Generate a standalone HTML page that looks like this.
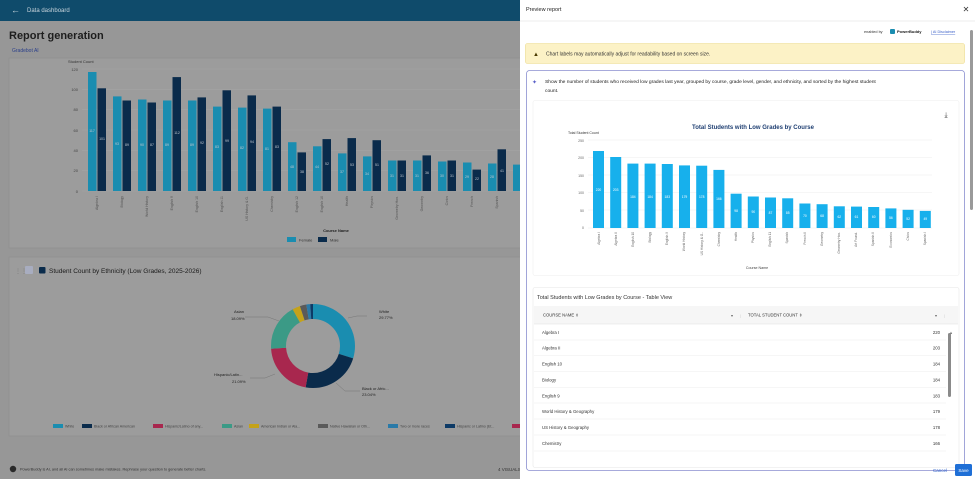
<!DOCTYPE html>
<html><head><meta charset="utf-8"><style>
html,body{margin:0;padding:0;width:975px;height:479px;overflow:hidden;background:#979797;font-family:"Liberation Sans",sans-serif}
svg{display:block}
</style></head><body>
<svg width="975" height="479" viewBox="0 0 975 479" font-family="Liberation Sans, sans-serif">
<!-- LEFT (dimmed) -->
<rect x="0" y="0" width="520" height="479" fill="#979797"/>
<rect x="0" y="0" width="520" height="21" fill="#0f4b6b"/>
<text x="11" y="13" font-size="9" fill="#c8d4dc">←</text>
<text x="27" y="12" font-size="6" fill="#c8d4dc">Data dashboard</text>
<text x="9" y="39" font-size="11" font-weight="bold" fill="#1e1e1e">Report generation</text>
<text x="12" y="52" font-size="5" fill="#2a3f8a">Gradebot AI</text>
<rect x="9" y="58" width="515" height="190" fill="#9c9c9c" stroke="#8c8c8c" stroke-width="0.6"/>
<text x="68" y="63" font-size="4" fill="#333">Student Count</text>
<g stroke="#a6a6a6" stroke-width="0.5">
<line x1="82" y1="69" x2="520" y2="69"/><line x1="82" y1="89.3" x2="520" y2="89.3"/><line x1="82" y1="109.7" x2="520" y2="109.7"/><line x1="82" y1="130" x2="520" y2="130"/><line x1="82" y1="150.3" x2="520" y2="150.3"/><line x1="82" y1="170.7" x2="520" y2="170.7"/><line x1="82" y1="191" x2="520" y2="191"/>
</g>
<g font-size="4" fill="#444" text-anchor="end">
<text x="78" y="71">120</text><text x="78" y="91">100</text><text x="78" y="111">80</text><text x="78" y="132">60</text><text x="78" y="152">40</text><text x="78" y="172">20</text><text x="78" y="193">0</text>
</g>
<g fill="#1a8db0">
<rect x="88" y="72" width="8.5" height="119"/><rect x="113" y="96.4" width="8.5" height="94.6"/><rect x="138" y="99.5" width="8.5" height="91.5"/><rect x="163" y="100.5" width="8.5" height="90.5"/><rect x="188" y="100.5" width="8.5" height="90.5"/><rect x="213" y="106.6" width="8.5" height="84.4"/><rect x="238" y="107.6" width="8.5" height="83.4"/><rect x="263" y="108.6" width="8.5" height="82.4"/><rect x="288" y="142.2" width="8.5" height="48.8"/><rect x="313" y="146.3" width="8.5" height="44.7"/><rect x="338" y="153.4" width="8.5" height="37.6"/><rect x="363" y="156.4" width="8.5" height="34.6"/><rect x="388" y="160.5" width="8.5" height="30.5"/><rect x="413" y="160.5" width="8.5" height="30.5"/><rect x="438" y="161.5" width="8.5" height="29.5"/><rect x="463" y="162.5" width="8.5" height="28.5"/><rect x="488" y="163.5" width="8.5" height="27.5"/><rect x="513" y="164.6" width="7" height="26.4"/>
</g>
<g fill="#0a2b4b">
<rect x="97.5" y="88.3" width="8.5" height="102.7"/><rect x="122.5" y="100.5" width="8.5" height="90.5"/><rect x="147.5" y="102.5" width="8.5" height="88.5"/><rect x="172.5" y="77.1" width="8.5" height="113.9"/><rect x="197.5" y="97.4" width="8.5" height="93.6"/><rect x="222.5" y="90.3" width="8.5" height="100.7"/><rect x="247.5" y="95.4" width="8.5" height="95.6"/><rect x="272.5" y="106.6" width="8.5" height="84.4"/><rect x="297.5" y="152.4" width="8.5" height="38.6"/><rect x="322.5" y="139.1" width="8.5" height="51.9"/><rect x="347.5" y="138.1" width="8.5" height="52.9"/><rect x="372.5" y="140.2" width="8.5" height="50.8"/><rect x="397.5" y="160.5" width="8.5" height="30.5"/><rect x="422.5" y="155.4" width="8.5" height="35.6"/><rect x="447.5" y="160.5" width="8.5" height="30.5"/><rect x="472.5" y="169.6" width="8.5" height="21.4"/><rect x="497.5" y="149.3" width="8.5" height="41.7"/>
</g>
<g font-size="3.5" fill="#c0c8d0" text-anchor="middle">
<text x="92" y="132">117</text><text x="102" y="140">101</text><text x="117" y="145">93</text><text x="127" y="146">89</text><text x="142" y="146">90</text><text x="152" y="146">87</text><text x="167" y="146">89</text><text x="177" y="134">112</text><text x="192" y="146">89</text><text x="202" y="144">92</text><text x="217" y="148">83</text><text x="227" y="142">99</text><text x="242" y="149">82</text><text x="252" y="143">94</text><text x="267" y="150">81</text><text x="277" y="148">83</text><text x="292" y="168">48</text><text x="302" y="173">38</text><text x="317" y="168">44</text><text x="327" y="165">52</text><text x="342" y="173">37</text><text x="352" y="166">53</text><text x="367" y="175">34</text><text x="377" y="166">51</text><text x="392" y="177">31</text><text x="402" y="177">31</text><text x="417" y="177">31</text><text x="427" y="174">36</text><text x="442" y="177">30</text><text x="452" y="177">31</text><text x="467" y="178">29</text><text x="477" y="180">22</text><text x="492" y="178">28</text><text x="502" y="172">41</text>
</g>
<g font-size="3.5" fill="#555">
<text transform="translate(98,196) rotate(-90)" text-anchor="end">Algebra I</text><text transform="translate(123,196) rotate(-90)" text-anchor="end">Biology</text><text transform="translate(148,196) rotate(-90)" text-anchor="end">World History</text><text transform="translate(173,196) rotate(-90)" text-anchor="end">English 9</text><text transform="translate(198,196) rotate(-90)" text-anchor="end">English 10</text><text transform="translate(223,196) rotate(-90)" text-anchor="end">English 11</text><text transform="translate(248,196) rotate(-90)" text-anchor="end">US History &amp; G.</text><text transform="translate(273,196) rotate(-90)" text-anchor="end">Chemistry</text><text transform="translate(298,196) rotate(-90)" text-anchor="end">English 12</text><text transform="translate(323,196) rotate(-90)" text-anchor="end">English 10</text><text transform="translate(348,196) rotate(-90)" text-anchor="end">Health</text><text transform="translate(373,196) rotate(-90)" text-anchor="end">Physics</text><text transform="translate(398,196) rotate(-90)" text-anchor="end">Geometry Hon.</text><text transform="translate(423,196) rotate(-90)" text-anchor="end">Geometry</text><text transform="translate(448,196) rotate(-90)" text-anchor="end">Civics</text><text transform="translate(473,196) rotate(-90)" text-anchor="end">French</text><text transform="translate(498,196) rotate(-90)" text-anchor="end">Spanish</text>
</g>
<text x="336" y="232" font-size="4" font-weight="bold" fill="#222" text-anchor="middle">Course Name</text>
<rect x="287" y="237" width="9" height="5" fill="#1a8db0"/><text x="299" y="241.5" font-size="4" fill="#333">Female</text>
<rect x="318" y="237" width="9" height="5" fill="#0a2b4b"/><text x="330" y="241.5" font-size="4" fill="#333">Male</text>
<!-- second card -->
<rect x="9" y="257" width="515" height="179" fill="#9c9c9c" stroke="#8c8c8c" stroke-width="0.6"/>
<text x="15" y="273" font-size="6" fill="#7a7a7a">⋮⋮</text>
<rect x="25" y="266" width="8" height="8" fill="#a8adc0" rx="1"/>
<rect x="39" y="267" width="6.5" height="6.5" fill="#0a2b4b" rx="1"/>
<text x="49" y="273" font-size="6.5" fill="#1a1a1a">Student Count by Ethnicity (Low Grades, 2025-2026)</text>
<g transform="translate(313,346) rotate(-90)" fill="none" stroke-width="15">
<circle r="34.5" stroke="#1a8db0" stroke-dasharray="64.4 216.8" stroke-dashoffset="0"/>
<circle r="34.5" stroke="#0a2b4b" stroke-dasharray="49.9 216.8" stroke-dashoffset="-64.4"/>
<circle r="34.5" stroke="#a8274e" stroke-dasharray="45.7 216.8" stroke-dashoffset="-114.3"/>
<circle r="34.5" stroke="#3b9a86" stroke-dasharray="39 216.8" stroke-dashoffset="-160"/>
<circle r="34.5" stroke="#c4a21a" stroke-dasharray="6.5 216.8" stroke-dashoffset="-199"/>
<circle r="34.5" stroke="#5a5a5a" stroke-dasharray="5.4 216.8" stroke-dashoffset="-205.5"/>
<circle r="34.5" stroke="#2a7aa8" stroke-dasharray="3.2 216.8" stroke-dashoffset="-210.9"/>
<circle r="34.5" stroke="#0d3a66" stroke-dasharray="2.7 216.8" stroke-dashoffset="-214.1"/>
</g>
<g stroke="#777" stroke-width="0.5" fill="none">
<polyline points="348,318 357,316 367,316"/><polyline points="279,321 268,317 245,317"/><polyline points="275,374 265,378 250,378"/><polyline points="336,383 345,391 360,391"/>
</g>
<g font-size="4" fill="#222">
<text x="379" y="313">White</text><text x="379" y="319">29.77%</text>
<text x="234" y="313">Asian</text><text x="231" y="320">18.09%</text>
<text x="214" y="376">Hispanic/Latin...</text><text x="232" y="383">21.09%</text>
<text x="362" y="390">Black or Afric...</text><text x="362" y="396">23.04%</text>
</g>
<g font-size="3.6" fill="#444">
<rect x="53" y="424" width="10" height="4" fill="#1a8db0"/><text x="65" y="427.5">White</text>
<rect x="82" y="424" width="10" height="4" fill="#0a2b4b"/><text x="94" y="427.5">Black or African American</text>
<rect x="153" y="424" width="10" height="4" fill="#a8274e"/><text x="165" y="427.5">Hispanic/Latino of any...</text>
<rect x="222" y="424" width="10" height="4" fill="#3b9a86"/><text x="234" y="427.5">Asian</text>
<rect x="249" y="424" width="10" height="4" fill="#c4a21a"/><text x="261" y="427.5">American Indian or Ala...</text>
<rect x="318" y="424" width="10" height="4" fill="#5a5a5a"/><text x="330" y="427.5">Native Hawaiian or Oth...</text>
<rect x="388" y="424" width="10" height="4" fill="#2a7aa8"/><text x="400" y="427.5">Two or more races</text>
<rect x="445" y="424" width="10" height="4" fill="#0d3a66"/><text x="457" y="427.5">Hispanic or Latino (Et...</text>
<rect x="512" y="424" width="8" height="4" fill="#a8274e"/>
</g>
<circle cx="13" cy="469" r="3.2" fill="#2a2a2a"/>
<text x="20" y="470.5" font-size="3.8" fill="#333">PowerBuddy is AI, and all AI can sometimes make mistakes. Rephrase your question to generate better charts.</text>
<text x="498" y="471" font-size="4.5" fill="#333">4 VISUALS</text>

<!-- RIGHT modal -->
<rect x="520" y="0" width="455" height="479" fill="#ffffff"/>
<text x="526" y="11" font-size="5.5" fill="#222">Preview report</text>
<text x="966" y="12" font-size="8" fill="#333" text-anchor="middle">✕</text>
<line x1="520" y1="21" x2="975" y2="21" stroke="#e6e6e6" stroke-width="0.8"/>
<text x="864" y="33" font-size="3.8" fill="#333">enabled by</text>
<rect x="890" y="29" width="5" height="5" fill="#1a8db0" rx="1"/>
<text x="897" y="33" font-size="4" font-weight="bold" fill="#1a1a1a">PowerBuddy</text>
<text x="931" y="33" font-size="3.8" fill="#3a5fc8" text-decoration="underline">| AI Disclaimer</text>
<rect x="970" y="30" width="3" height="180" fill="#9a9a9a" rx="1.5"/>
<rect x="525.5" y="43.5" width="439" height="20" fill="#fcf2c6" stroke="#ecd98a" stroke-width="0.6" rx="2"/>
<text x="533" y="56" font-size="6" fill="#4a3a00">▲</text>
<text x="546" y="55.5" font-size="5" fill="#333">Chart labels may automatically adjust for readability based on screen size.</text>
<rect x="526.5" y="70.5" width="438" height="400" fill="#fff" stroke="#8a8fd0" stroke-width="0.8" rx="3"/>
<text x="532" y="84" font-size="6" fill="#5a60c8">✦</text>
<text x="545" y="83" font-size="4.9" fill="#222">Show the number of students who received low grades last year, grouped by course, grade level, gender, and ethnicity, and sorted by the highest student</text>
<text x="545" y="92" font-size="4.9" fill="#222">count.</text>
<rect x="533" y="100.5" width="426" height="175" fill="#fff" stroke="#eeeeee" stroke-width="0.6" rx="2"/>
<text x="946" y="117" font-size="7" fill="#333" text-anchor="middle">⤓</text>
<text x="753" y="129" font-size="6" font-weight="bold" fill="#1f3f72" text-anchor="middle">Total Students with Low Grades by Course</text>
<text x="568" y="134" font-size="3.5" fill="#333">Total Student Count</text>
<g stroke="#ececec" stroke-width="0.5">
<line x1="588" y1="140" x2="932" y2="140"/><line x1="588" y1="157.5" x2="932" y2="157.5"/><line x1="588" y1="175" x2="932" y2="175"/><line x1="588" y1="192.5" x2="932" y2="192.5"/><line x1="588" y1="210" x2="932" y2="210"/><line x1="588" y1="228" x2="932" y2="228"/>
</g>
<g font-size="3.5" fill="#666" text-anchor="end">
<text x="584" y="142">250</text><text x="584" y="159">200</text><text x="584" y="177">150</text><text x="584" y="194">100</text><text x="584" y="212">50</text><text x="584" y="229">0</text>
</g>
<g fill="#17b0ec">
<rect x="593" y="151" width="11" height="77"/><rect x="610.2" y="157" width="11" height="71"/><rect x="627.4" y="163.6" width="11" height="64.4"/><rect x="644.6" y="163.6" width="11" height="64.4"/><rect x="661.8" y="164" width="11" height="64"/><rect x="679" y="165.4" width="11" height="62.6"/><rect x="696.2" y="165.7" width="11" height="62.3"/><rect x="713.4" y="169.9" width="11" height="58.1"/><rect x="730.6" y="193.7" width="11" height="34.3"/><rect x="747.8" y="196.5" width="11" height="31.5"/><rect x="765" y="197.5" width="11" height="30.5"/><rect x="782.2" y="198.3" width="11" height="29.7"/><rect x="799.4" y="203.5" width="11" height="24.5"/><rect x="816.6" y="204.2" width="11" height="23.8"/><rect x="833.8" y="206.3" width="11" height="21.7"/><rect x="851" y="206.6" width="11" height="21.4"/><rect x="868.2" y="207" width="11" height="21"/><rect x="885.4" y="208.4" width="11" height="19.6"/><rect x="902.6" y="209.8" width="11" height="18.2"/><rect x="919.8" y="210.9" width="11" height="17.1"/>
</g>
<g font-size="3.3" fill="#fff" text-anchor="middle">
<text x="598.5" y="191">220</text><text x="615.7" y="191">203</text><text x="632.9" y="198">184</text><text x="650.1" y="198">184</text><text x="667.3" y="198">183</text><text x="684.5" y="198">179</text><text x="701.7" y="198">178</text><text x="718.9" y="200">166</text><text x="736.1" y="212">98</text><text x="753.3" y="213">90</text><text x="770.5" y="214">87</text><text x="787.7" y="214">85</text><text x="804.9" y="217">70</text><text x="822.1" y="217">68</text><text x="839.3" y="218">62</text><text x="856.5" y="218">61</text><text x="873.7" y="218">60</text><text x="890.9" y="219">56</text><text x="908.1" y="220">52</text><text x="925.3" y="220">49</text>
</g>
<g font-size="3.2" fill="#666" text-anchor="end">
<text transform="translate(600,232) rotate(-90)">Algebra I</text><text transform="translate(617,232) rotate(-90)">Algebra II</text><text transform="translate(634,232) rotate(-90)">English 10</text><text transform="translate(651,232) rotate(-90)">Biology</text><text transform="translate(668,232) rotate(-90)">English 9</text><text transform="translate(685,232) rotate(-90)">World History</text><text transform="translate(703,232) rotate(-90)">US History &amp; G..</text><text transform="translate(720,232) rotate(-90)">Chemistry</text><text transform="translate(737,232) rotate(-90)">Health</text><text transform="translate(754,232) rotate(-90)">Physics</text><text transform="translate(771,232) rotate(-90)">English 11</text><text transform="translate(788,232) rotate(-90)">Spanish</text><text transform="translate(806,232) rotate(-90)">French II</text><text transform="translate(823,232) rotate(-90)">Geometry</text><text transform="translate(840,232) rotate(-90)">Geometry Hon.</text><text transform="translate(857,232) rotate(-90)">Art Found.</text><text transform="translate(874,232) rotate(-90)">Spanish II</text><text transform="translate(892,232) rotate(-90)">Economics</text><text transform="translate(909,232) rotate(-90)">Civics</text><text transform="translate(926,232) rotate(-90)">Spanish I</text>
</g>
<text x="757" y="269" font-size="3.6" fill="#444" text-anchor="middle">Course Name</text>
<rect x="533" y="287.5" width="426" height="180" fill="#fff" stroke="#e6e6e6" stroke-width="0.6" rx="2"/>
<text x="537" y="299" font-size="5.5" fill="#333">Total Students with Low Grades by Course - Table View</text>
<rect x="534" y="306" width="424" height="18" fill="#f6f6f6"/>
<line x1="534" y1="324" x2="958" y2="324" stroke="#e0e0e0" stroke-width="0.6"/>
<text x="543" y="316.5" font-size="4.2" fill="#333">COURSE NAME  ⇕</text>
<text x="731" y="317" font-size="4" fill="#666">▾</text><text x="740" y="317" font-size="4" fill="#ccc">|</text>
<text x="748" y="316.5" font-size="4.2" fill="#333">TOTAL STUDENT COUNT  ⇕</text>
<text x="935" y="317" font-size="4" fill="#666">▾</text><text x="944" y="317" font-size="4" fill="#ccc">|</text>
<g font-size="4.3" fill="#333">
<text x="542" y="334">Algebra I</text><text x="940" y="334" text-anchor="end">220</text>
<text x="542" y="349.5">Algebra II</text><text x="940" y="349.5" text-anchor="end">203</text>
<text x="542" y="365.5">English 10</text><text x="940" y="365.5" text-anchor="end">184</text>
<text x="542" y="381.5">Biology</text><text x="940" y="381.5" text-anchor="end">184</text>
<text x="542" y="397.5">English 9</text><text x="940" y="397.5" text-anchor="end">183</text>
<text x="542" y="413">World History &amp; Geography</text><text x="940" y="413" text-anchor="end">179</text>
<text x="542" y="429">US History &amp; Geography</text><text x="940" y="429" text-anchor="end">178</text>
<text x="542" y="445">Chemistry</text><text x="940" y="445" text-anchor="end">166</text>
</g>
<g stroke="#ececec" stroke-width="0.5">
<line x1="534" y1="340" x2="946" y2="340"/><line x1="534" y1="355.5" x2="946" y2="355.5"/><line x1="534" y1="371.5" x2="946" y2="371.5"/><line x1="534" y1="387.5" x2="946" y2="387.5"/><line x1="534" y1="403" x2="946" y2="403"/><line x1="534" y1="419" x2="946" y2="419"/><line x1="534" y1="435" x2="946" y2="435"/><line x1="534" y1="451" x2="946" y2="451"/>
</g>
<text x="949" y="334" font-size="4" fill="#777">▲</text>
<rect x="948" y="333" width="3" height="64" fill="#8a8a8a" rx="1.5"/>
<text x="940" y="472" font-size="4.5" fill="#2a5fc8" text-anchor="middle">Cancel</text>
<rect x="955" y="464" width="17" height="12" fill="#1f6fd6" rx="1.5"/>
<text x="963.5" y="472" font-size="4.5" fill="#fff" text-anchor="middle">Save</text>
</svg>
</body></html>
